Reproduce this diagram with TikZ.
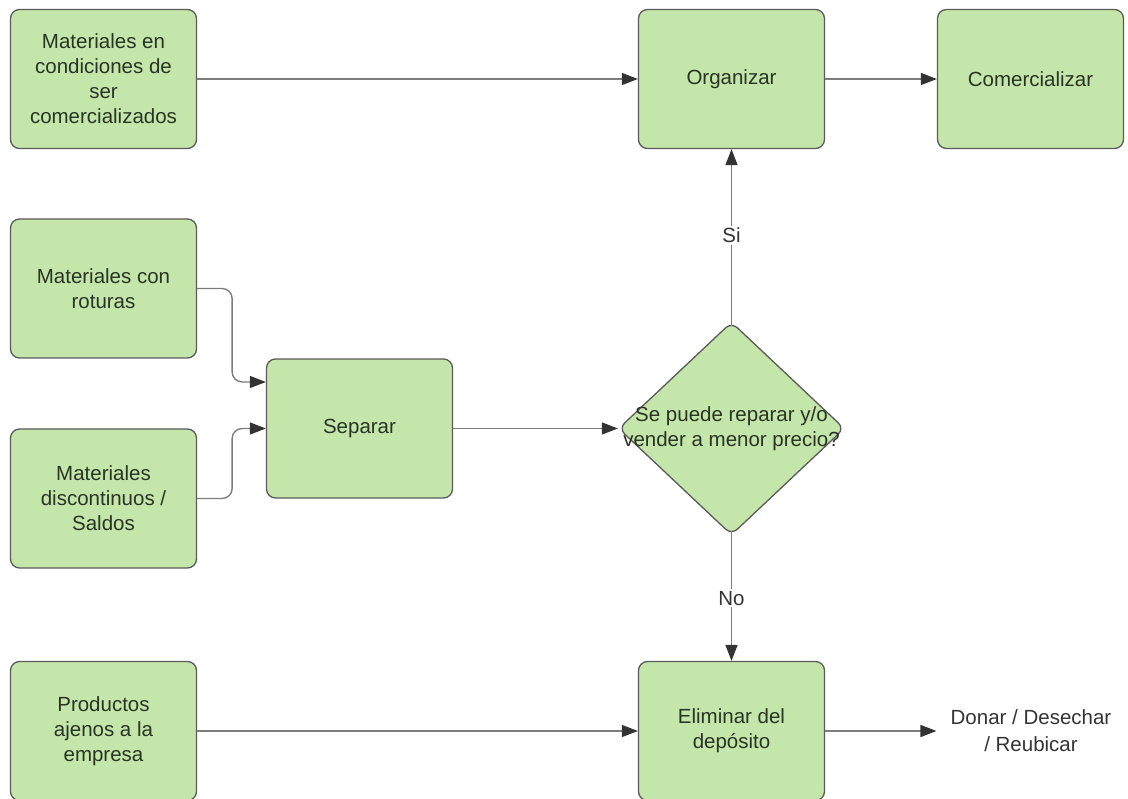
\documentclass[tikz,border=0pt]{standalone}
\usepackage{fontspec}
\setmainfont{Liberation Sans}
\usetikzlibrary{shapes.geometric,arrows.meta}
\definecolor{boxfill}{RGB}{197,230,170}
\definecolor{boxline}{RGB}{90,90,90}
\definecolor{conline}{RGB}{125,125,125}
\definecolor{boxtext}{RGB}{40,52,36}
\definecolor{tiptext}{RGB}{51,51,51}

\begin{document}
\begin{tikzpicture}[x=1pt,y=-1pt]
	\tikzstyle{paso}=[rectangle,rounded corners=9pt,draw=boxline,line width=1.3pt,fill=boxfill,
		minimum width=186pt,minimum height=139pt,inner sep=0pt,align=center,text=boxtext,
		font=\fontsize{20.5}{25}\selectfont]
	\tikzstyle{pregunta}=[diamond,rounded corners=8pt,draw=boxline,line width=1.3pt,fill=boxfill,
		minimum width=226pt,minimum height=213pt,inner sep=0pt]
	\tikzstyle{flecha}=[draw=conline,line width=1.4pt,-{Triangle[length=16pt,width=12pt,color=tiptext]}]
	\tikzstyle{etiqueta}=[fill=white,inner sep=2pt,text=tiptext,font=\fontsize{20.5}{25}\selectfont]
	\useasboundingbox (0,0) rectangle (1128,799);
	\node[paso](matcom) at (103.5,79) {Materiales en\\condiciones de\\ser\\comercializados};
	\node[paso](org) at (731.5,79) {Organizar};
	\node[paso](comer) at (1030.5,79) {Comercializar};
	\node[paso](rot) at (103.5,288.5) {Materiales con\\roturas};
	\node[paso](sep) at (359.5,428.5) {Separar};
	\node[paso](disc) at (103.5,498.5) {Materiales\\discontinuos /\\Saldos};
	\node[pregunta](dec) at (731.5,428.5) {};
	\node[align=center,text=boxtext,font=\fontsize{20.5}{25}\selectfont](dectext) at (dec.center) {Se puede reparar y/o\\vender a menor precio?};
	\node[paso](prod) at (103.5,731) {Productos\\ajenos a la\\empresa};
	\node[paso](elim) at (731.5,731) {Eliminar del\\dep\'osito};
	\node[align=center,inner sep=0pt,text=tiptext,font=\fontsize{20.5}{27}\selectfont](dest) at (1031,731) {Donar / Desechar\\/ Reubicar};
	\path[flecha]
		(matcom) edge node {} (org)
		(org) edge node {} (comer)
		(sep) edge node {} (dec.west)
		(prod) edge node {} (elim);
	\draw[flecha,shorten <=-5pt] (dec.north) -- node[etiqueta] {Si} (org.south);
	\draw[flecha,shorten <=-5pt] (dec.south) -- node[etiqueta] {No} (elim.north);
	\draw[flecha,shorten >=14pt] (elim) -- (dest.west);
	\draw[flecha,rounded corners=10pt] (rot.east) -- ++(35,0) |- ([yshift=46.5pt]sep.west);
	\draw[flecha,rounded corners=10pt] (disc.east) -- ++(35,0) |- (sep.west);
\end{tikzpicture}
\end{document}
